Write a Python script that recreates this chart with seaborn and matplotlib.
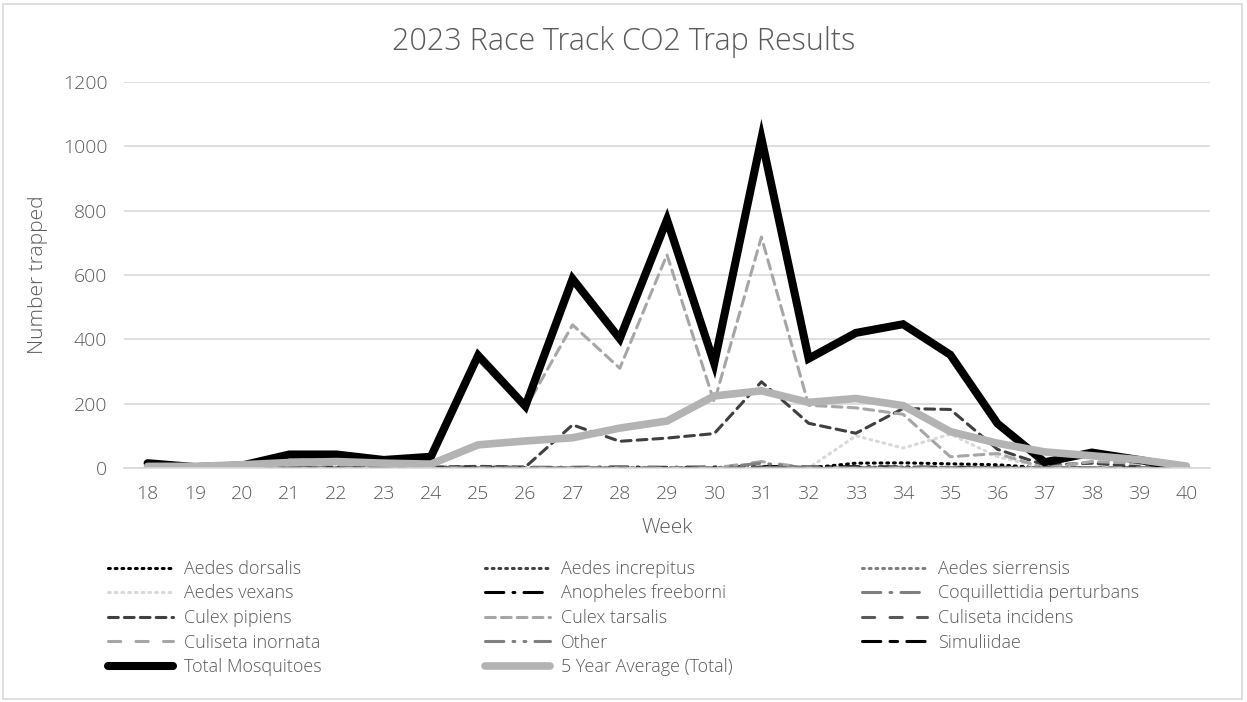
import matplotlib
matplotlib.use("Agg")
import matplotlib.pyplot as plt
from matplotlib.patches import Rectangle
import seaborn as sns

# ---- data ----
weeks = list(range(18, 41))

aedes_dorsalis =    [0, 0, 0, 0, 0, 0, 0, 0, 0, 0, 0, 0, 0, 2, 0, 15, 16, 13, 10, 0, 0, 0, 0]
aedes_increpitus =  [0, 0, 0, 0, 0, 0, 0, 0, 0, 0, 0, 0, 0, 0, 0, 2, 3, 2, 0, 0, 0, 0, 0]
aedes_sierrensis =  [0, 0, 0, 0, 0, 0, 0, 0, 0, 0, 0, 0, 0, 0, 0, 0, 1, 0, 0, 0, 0, 0, 0]
aedes_vexans =      [0, 0, 0, 0, 0, 0, 0, 0, 0, 0, 0, 0, 0, 0, 0, 100, 62, 105, 35, 0, 2, 0, 0]
anopheles =         [0, 0, 0, 0, 0, 0, 2, 3, 2, 2, 3, 2, 3, 5, 3, 4, 3, 2, 2, 1, 0, 0, 0]
coquillettidia =    [0, 0, 0, 0, 0, 0, 0, 0, 0, 1, 0, 0, 0, 2, 0, 0, 0, 0, 0, 0, 0, 0, 0]
culex_pipiens =     [2, 0, 0, 3, 3, 2, 3, 5, 3, 134, 83, 93, 107, 268, 139, 108, 185, 182, 58, 9, 15, 4, 0]
culex_tarsalis =    [10, 0, 5, 25, 25, 15, 20, 335, 185, 445, 310, 663, 205, 718, 195, 187, 167, 35, 45, 0, 20, 15, 0]
culiseta_incidens = [0, 0, 0, 0, 0, 0, 0, 0, 0, 0, 0, 0, 0, 3, 0, 0, 0, 0, 0, 0, 0, 0, 0]
culiseta_inornata = [0, 0, 0, 0, 0, 0, 0, 0, 0, 0, 0, 0, 0, 20, 0, 0, 0, 0, 0, 0, 0, 0, 0]
other =             [0, 0, 0, 0, 0, 0, 0, 0, 0, 0, 0, 0, 0, 15, 0, 0, 0, 0, 0, 0, 0, 0, 0]
simuliidae =        [0, 0, 0, 0, 0, 0, 0, 0, 0, 0, 0, 0, 0, 0, 0, 0, 0, 0, 0, 0, 0, 0, 0]
total =             [15, 3, 8, 42, 42, 25, 35, 350, 192, 588, 402, 772, 325, 1025, 340, 420, 447, 352, 138, 18, 48, 25, 0]
avg_5yr =           [5, 5, 10, 17, 20, 15, 12, 72, 84, 94, 124, 146, 224, 240, 204, 216, 194, 113, 77, 50, 38, 26, 6]

# name, values, colour, dash pattern, width
series = [
    ("Aedes dorsalis", aedes_dorsalis, "#000000", (0, (0.6, 1.6)), 2.2),
    ("Aedes increpitus", aedes_increpitus, "#404040", (0, (0.6, 1.6)), 2.2),
    ("Aedes sierrensis", aedes_sierrensis, "#7f7f7f", (0, (0.6, 1.6)), 2.2),
    ("Aedes vexans", aedes_vexans, "#d9d9d9", (0, (0.6, 1.6)), 2.2),
    ("Anopheles freeborni", anopheles, "#000000", (0, (6, 3, 0.6, 3)), 2.2),
    ("Coquillettidia perturbans", coquillettidia, "#7f7f7f", (0, (6, 3, 0.6, 3)), 2.2),
    ("Culex pipiens", culex_pipiens, "#404040", (0, (3.2, 2)), 2.2),
    ("Culex tarsalis", culex_tarsalis, "#a6a6a6", (0, (3.2, 2)), 2.2),
    ("Culiseta incidens", culiseta_incidens, "#595959", (0, (4, 5)), 2.2),
    ("Culiseta inornata", culiseta_inornata, "#a6a6a6", (0, (4, 5)), 2.2),
    ("Other", other, "#7f7f7f", (0, (6, 3, 0.6, 3, 0.6, 3)), 2.2),
    ("Simuliidae", simuliidae, "#000000", (0, (6, 3, 2.5, 3)), 2.2),
    ("Total Mosquitoes", total, "#000000", "solid", 5.8),
    ("5 Year Average (Total)", avg_5yr, "#b3b3b3", "solid", 5.5),
]

sns.set_style("white")
plt.rcParams["font.family"] = ["Open Sans", "DejaVu Sans"]
plt.rcParams["font.weight"] = "light"
txt = "#595959"

W, H = 1247, 702
fig = plt.figure(figsize=(W / 100, H / 100), dpi=100)
ax = fig.add_axes([124 / W, 1 - 468 / H, (1210 - 124) / W, (468 - 82) / H])

handles = []
for name, vals, col, ls, lw in series:
    sns.lineplot(x=weeks, y=vals, ax=ax, color=col, linestyle=ls, linewidth=lw,
                 dash_capstyle="round", solid_capstyle="round", solid_joinstyle="miter")
    ln = ax.lines[-1]
    ln.set_label(name)
    handles.append(ln)

ax.set_xlim(17.5, 40.5)
ax.set_ylim(0, 1200)
ax.set_xticks(weeks)
ax.set_yticks(range(0, 1201, 200))
ax.grid(axis="y", color="#d9d9d9", linewidth=1.2)
ax.grid(axis="x", visible=False)
ax.set_axisbelow(True)
for s in ["top", "left", "right"]:
    ax.spines[s].set_visible(False)
ax.spines["bottom"].set_color("#d9d9d9")
ax.spines["bottom"].set_linewidth(1.2)
ax.tick_params(length=0, labelsize=14, colors=txt, pad=12)
ax.set_xlabel("")
ax.set_ylabel("")
if ax.get_legend() is not None:
    ax.get_legend().remove()

fig.text(0.5, 1 - 42 / H, "2023 Race Track CO2 Trap Results", ha="center", va="center",
         fontsize=22, color=txt)
fig.text(667 / W, 1 - 528 / H, "Week", ha="center", va="center", fontsize=15, color=txt)
fig.text(38 / W, 1 - 275 / H, "Number trapped", ha="center", va="center", rotation=90,
         fontsize=15, color=txt)

# legend, three columns placed by hand
cols = [[0, 3, 6, 9, 12], [1, 4, 7, 10, 13], [2, 5, 8, 11]]
col_x = [108, 485, 862]
for idx, x0 in zip(cols, col_x):
    fig.legend([handles[i] for i in idx], [series[i][0] for i in idx],
               loc="upper left", bbox_to_anchor=(x0 / W, 1 - 560 / H),
               frameon=False, fontsize=13, labelcolor=txt, handlelength=3.6,
               handletextpad=0.6, labelspacing=0.36, borderpad=0, borderaxespad=0)

fig.patches.append(Rectangle((3 / W, 3 / H), (W - 8) / W, (H - 7) / H,
                             transform=fig.transFigure, fill=False,
                             edgecolor="#d9d9d9", linewidth=1.2))

fig.savefig("out.png", dpi=100)
